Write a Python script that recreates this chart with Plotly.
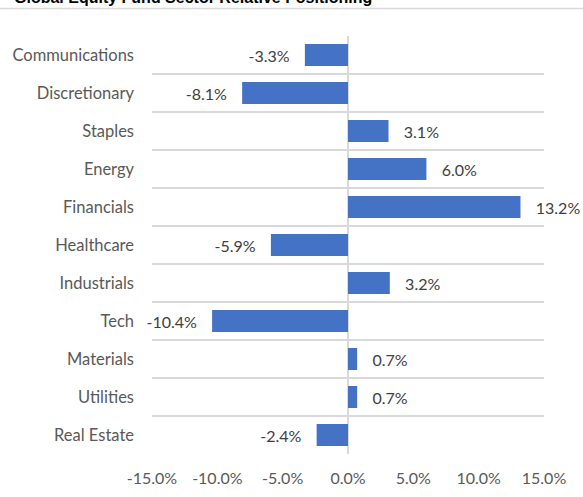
import plotly.graph_objects as go

categories = ["Communications", "Discretionary", "Staples", "Energy", "Financials",
              "Healthcare", "Industrials", "Tech", "Materials", "Utilities", "Real Estate"]
values = [-3.3, -8.1, 3.1, 6.0, 13.2, -5.9, 3.2, -10.4, 0.7, 0.7, -2.4]
tick_vals = [-15, -10, -5, 0, 5, 10, 15]
tick_text = ["-15.0%", "-10.0%", "-5.0%", "0.0%", "5.0%", "10.0%", "15.0%"]
title_text = "Global Equity Fund Sector Relative Positioning"

W, H = 583, 497
ml, mr, mt, mb = 152, 39, 36, 43
pw, ph = W - ml - mr, H - mt - mb

pad = "\u00a0" * 3
labels = [(pad + f"{v:.1f}%") if v >= 0 else (f"{v:.1f}%" + pad) for v in values]

FONT = "Lato, Noto Sans, sans-serif"

fig = go.Figure(go.Bar(
    x=values, y=categories, orientation="h",
    marker=dict(color="#4472C4", line=dict(width=0)),
    text=labels, textposition="outside",
    textfont=dict(family=FONT, size=16, color="#404040"),
    cliponaxis=False,
))

fig.update_layout(
    width=W, height=H,
    margin=dict(l=ml, r=mr, t=mt, b=mb),
    plot_bgcolor="white", paper_bgcolor="white",
    bargap=0.42, showlegend=False,
    font=dict(family=FONT, size=16, color="#595959"),
    xaxis=dict(range=[-15, 15], tickvals=tick_vals, ticktext=tick_text,
               showgrid=False, zeroline=True, zerolinecolor="#d9d9d9", zerolinewidth=1.5,
               showline=False, ticks="", ticklabelstandoff=13,
               automargin=False,
               tickfont=dict(family=FONT, size=16, color="#595959")),
    yaxis=dict(autorange="reversed", type="category", tickson="boundaries",
               showgrid=True, gridcolor="#d9d9d9", gridwidth=1.5,
               ticks="", ticklabelstandoff=17,
               automargin=False,
               tickfont=dict(family=FONT, size=16.5, color="#595959")),
    annotations=[dict(text="<b>" + title_text + "</b>", xref="paper", yref="paper",
                      x=(12 - ml) / pw, y=(ph + mt + 2.5) / ph, xanchor="left", yanchor="middle",
                      showarrow=False,
                      font=dict(family="Liberation Sans, Arial, sans-serif", size=16, color="#000000"))],
    shapes=[dict(type="line", xref="paper", yref="paper",
                 x0=-ml / pw, x1=(W - ml) / pw, y0=(ph + mt - 8.5) / ph, y1=(ph + mt - 8.5) / ph,
                 line=dict(color="#d9d9d9", width=1.5))],
)

fig.write_html("out.html", config={"displayModeBar": False},
               post_script="document.body.style.margin='0';document.body.style.overflow='hidden';")
